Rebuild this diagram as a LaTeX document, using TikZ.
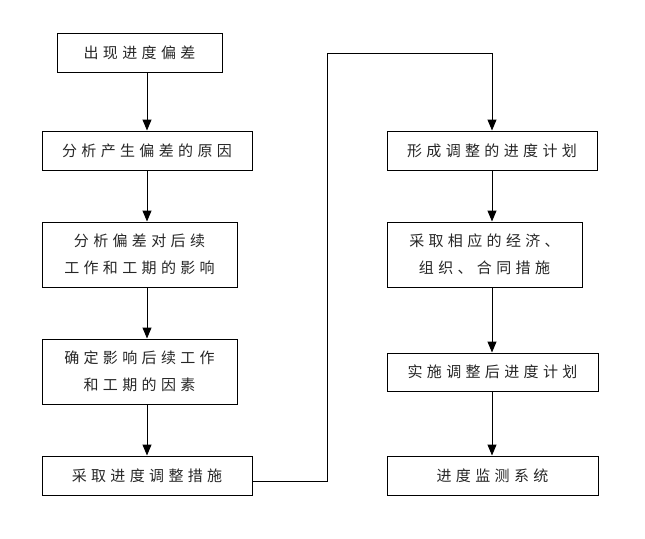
\documentclass[tikz,border=0pt]{standalone}
\usepackage{fontspec}
\newfontfamily\cjk[LetterSpace=29]{Noto Sans CJK SC}
\usetikzlibrary{arrows.meta}
\begin{document}
\begin{tikzpicture}[x=1pt,y=-1pt,
    box/.style={draw,line width=1pt,rectangle,align=center,inner sep=0pt,
        font=\cjk\fontsize{15pt}{27pt}\selectfont,text=black!85},
    arr/.style={line width=1pt,-{Triangle[length=11pt,width=9pt]}}]
    \useasboundingbox (0,0) rectangle (645,538);
    % left column
    \node[box,minimum width=165pt,minimum height=39pt] (dev) at (139.5,52.5) {出现进度偏差};
    \node[box,minimum width=210pt,minimum height=39pt] (cause) at (147,150.5) {分析产生偏差的原因};
    \node[box,minimum width=195pt,minimum height=65pt] (effect) at (139.5,254.5)
        {分析偏差对后续\\工作和工期的影响};
    \node[box,minimum width=195pt,minimum height=65pt] (factor) at (139.5,371.5)
        {确定影响后续工作\\和工期的因素};
    \node[box,minimum width=210pt,minimum height=39pt] (measure) at (147,475.5) {采取进度调整措施};
    % right column
    \node[box,minimum width=210pt,minimum height=39pt] (plan) at (492,150.5) {形成调整的进度计划};
    \node[box,minimum width=195pt,minimum height=65pt] (econ) at (484.5,254.5)
        {采取相应的经济、\\组织、合同措施};
    \node[box,minimum width=211pt,minimum height=38pt] (run) at (492.5,372) {实施调整后进度计划};
    \node[box,minimum width=211pt,minimum height=39pt] (monitor) at (492.5,475.5) {进度监测系统};
    % arrows
    \draw[arr] (dev.south -| cause) -- (cause.north);
    \draw[arr] (cause.south) -- (effect.north -| cause);
    \draw[arr] (effect.south -| cause) -- (factor.north -| cause);
    \draw[arr] (factor.south -| cause) -- (measure.north);
    \coordinate (out) at ([yshift=-6pt]measure.east);
    \coordinate (turn) at (327,53);
    \draw[arr] (out) -| (turn) -| (plan.north);
    \draw[arr] (plan.south) -- (econ.north -| plan);
    \draw[arr] (econ.south -| plan) -- (run.north -| plan);
    \draw[arr] (run.south -| plan) -- (monitor.north -| plan);
\end{tikzpicture}
\end{document}
